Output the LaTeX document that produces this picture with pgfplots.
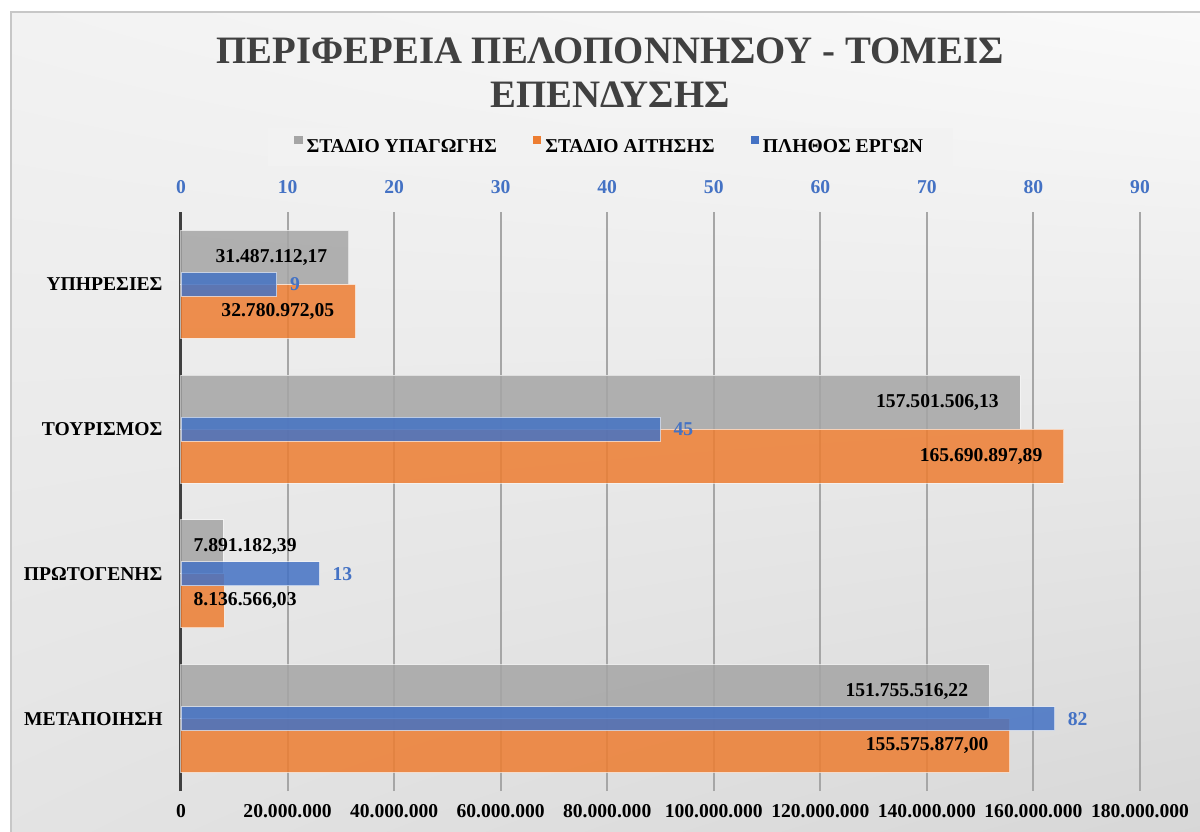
\documentclass[border=0pt]{standalone}
\usepackage{fontspec}
\setmainfont{Liberation Serif}
\usepackage{pgfplots}
\pgfplotsset{compat=1.18}
\usetikzlibrary{shadings}
\definecolor{cgray}{HTML}{A5A5A5}
\definecolor{corange}{HTML}{ED7D31}
\definecolor{cblue}{HTML}{4472C4}
\newcommand\lbl{\fontsize{9.8}{11.5}\selectfont\bfseries}
\pgfplotsset{
  sqlegend/.style={legend image code/.code={\fill[##1, draw=none] (0.3pt,1.4pt) rectangle (4.5pt,5.6pt);}},
  geom/.style={at={(90.5pt,20pt)}, anchor=south west, scale only axis,
    width=479.5pt, height=289.5pt, ymin=-0.5, ymax=3.5},
  barsty/.style={xbar, draw=white, draw opacity=0.6, line width=0.5pt, fill opacity=0.85},
}
\begin{document}
\begin{tikzpicture}
\clip (0,0) rectangle (600pt,415.5pt);
\fill[white] (0,0) rectangle (600pt,415.5pt);
\shade[upper left=black!5, upper right=black!2, lower left=black!11, lower right=black!16]
  (5.5pt,-10pt) rectangle (610pt,409.5pt);
\draw[black!22, line width=1pt] (5.5pt,-10pt) rectangle (610pt,409.5pt);
\node[anchor=base, text=black!75, font=\fontsize{19.4}{22}\selectfont\bfseries] at (305pt,383.5pt)
  {ΠΕΡΙΦΕΡΕΙΑ ΠΕΛΟΠΟΝΝΗΣΟΥ - ΤΟΜΕΙΣ};
\node[anchor=base, text=black!75, font=\fontsize{19.4}{22}\selectfont\bfseries] at (305pt,361.5pt)
  {ΕΠΕΝΔΥΣΗΣ};
\begin{axis}[geom,
  xmin=0, xmax=180000000,
  axis x line*=bottom, axis y line*=left,
  x axis line style={draw=none},
  y axis line style={draw=black!75, line width=1.5pt},
  xtick={0,20000000,40000000,60000000,80000000,100000000,120000000,140000000,160000000,180000000},
  xticklabels={0,20.000.000,40.000.000,60.000.000,80.000.000,100.000.000,120.000.000,140.000.000,160.000.000,180.000.000},
  scaled x ticks=false,
  ytick={0,1,2,3},
  yticklabels={ΜΕΤΑΠΟΙΗΣΗ,ΠΡΩΤΟΓΕΝΗΣ,ΤΟΥΡΙΣΜΟΣ,ΥΠΗΡΕΣΙΕΣ},
  major tick length=0pt,
  xmajorgrids, grid style={black!35, line width=1pt},
  x tick label style={font=\lbl, yshift=-3pt},
  y tick label style={font=\lbl, xshift=-5.7pt},
  clip=false,
]
\addplot[barsty, fill=cgray, bar width=27pt, bar shift=13.5pt] coordinates
  {(151755516.22,0) (7891182.39,1) (157501506.13,2) (31487112.17,3)};
\addplot[barsty, fill=corange, bar width=27pt, bar shift=-13.5pt] coordinates
  {(155575877.00,0) (8136566.03,1) (165690897.89,2) (32780972.05,3)};
% inside-end labels
\addplot[draw=none, nodes near coords, point meta=explicit symbolic,
  nodes near coords style={font=\lbl, text=black, anchor=east, xshift=-7.2pt, yshift=13.5pt}]
  coordinates {(151755516.22,0) [151.755.516,22] (157501506.13,2) [157.501.506,13] (31487112.17,3) [31.487.112,17]};
\addplot[draw=none, nodes near coords, point meta=explicit symbolic,
  nodes near coords style={font=\lbl, text=black, anchor=east, xshift=-7.2pt, yshift=-13.5pt}]
  coordinates {(155575877.00,0) [155.575.877,00] (165690897.89,2) [165.690.897,89] (32780972.05,3) [32.780.972,05]};
% labels of the short bars, held at the axis start
\addplot[draw=none, nodes near coords, point meta=explicit symbolic,
  nodes near coords style={font=\lbl, text=black, anchor=west, xshift=2.8pt, yshift=13.5pt}]
  coordinates {(0,1) [7.891.182,39]};
\addplot[draw=none, nodes near coords, point meta=explicit symbolic,
  nodes near coords style={font=\lbl, text=black, anchor=west, xshift=2.8pt, yshift=-13.5pt}]
  coordinates {(0,1) [8.136.566,03]};
\end{axis}
\begin{axis}[geom,
  xmin=0, xmax=90,
  axis x line*=top, axis y line=none,
  x axis line style={draw=none},
  xtick={0,10,...,90},
  xticklabels={0,10,20,30,40,50,60,70,80,90},
  major tick length=0pt,
  x tick label style={font=\lbl, text=cblue, yshift=5.8pt},
  clip=false, sqlegend,
  legend columns=3,
  legend style={at={(axis description cs:0.448,1.112)}, anchor=center, draw=none,
    fill=black!5, font=\lbl, inner xsep=13pt, inner ysep=3.5pt,
    /tikz/every even column/.append style={column sep=16pt}},
]
\addlegendimage{fill=cgray, draw=none}
\addlegendentry{ΣΤΑΔΙΟ ΥΠΑΓΩΓΗΣ}
\addlegendimage{fill=corange, draw=none}
\addlegendentry{ΣΤΑΔΙΟ ΑΙΤΗΣΗΣ}
\addlegendimage{fill=cblue, draw=none}
\addlegendentry{ΠΛΗΘΟΣ ΕΡΓΩΝ}
\addplot[barsty, fill=cblue, bar width=12pt, bar shift=0pt, forget plot,
  /pgf/number format/assume math mode=true,
  nodes near coords, nodes near coords style={font=\lbl, text=cblue, fill opacity=1, text opacity=1, anchor=west, xshift=3pt}]
  coordinates {(82,0) (13,1) (45,2) (9,3)};
\end{axis}
\end{tikzpicture}
\end{document}
